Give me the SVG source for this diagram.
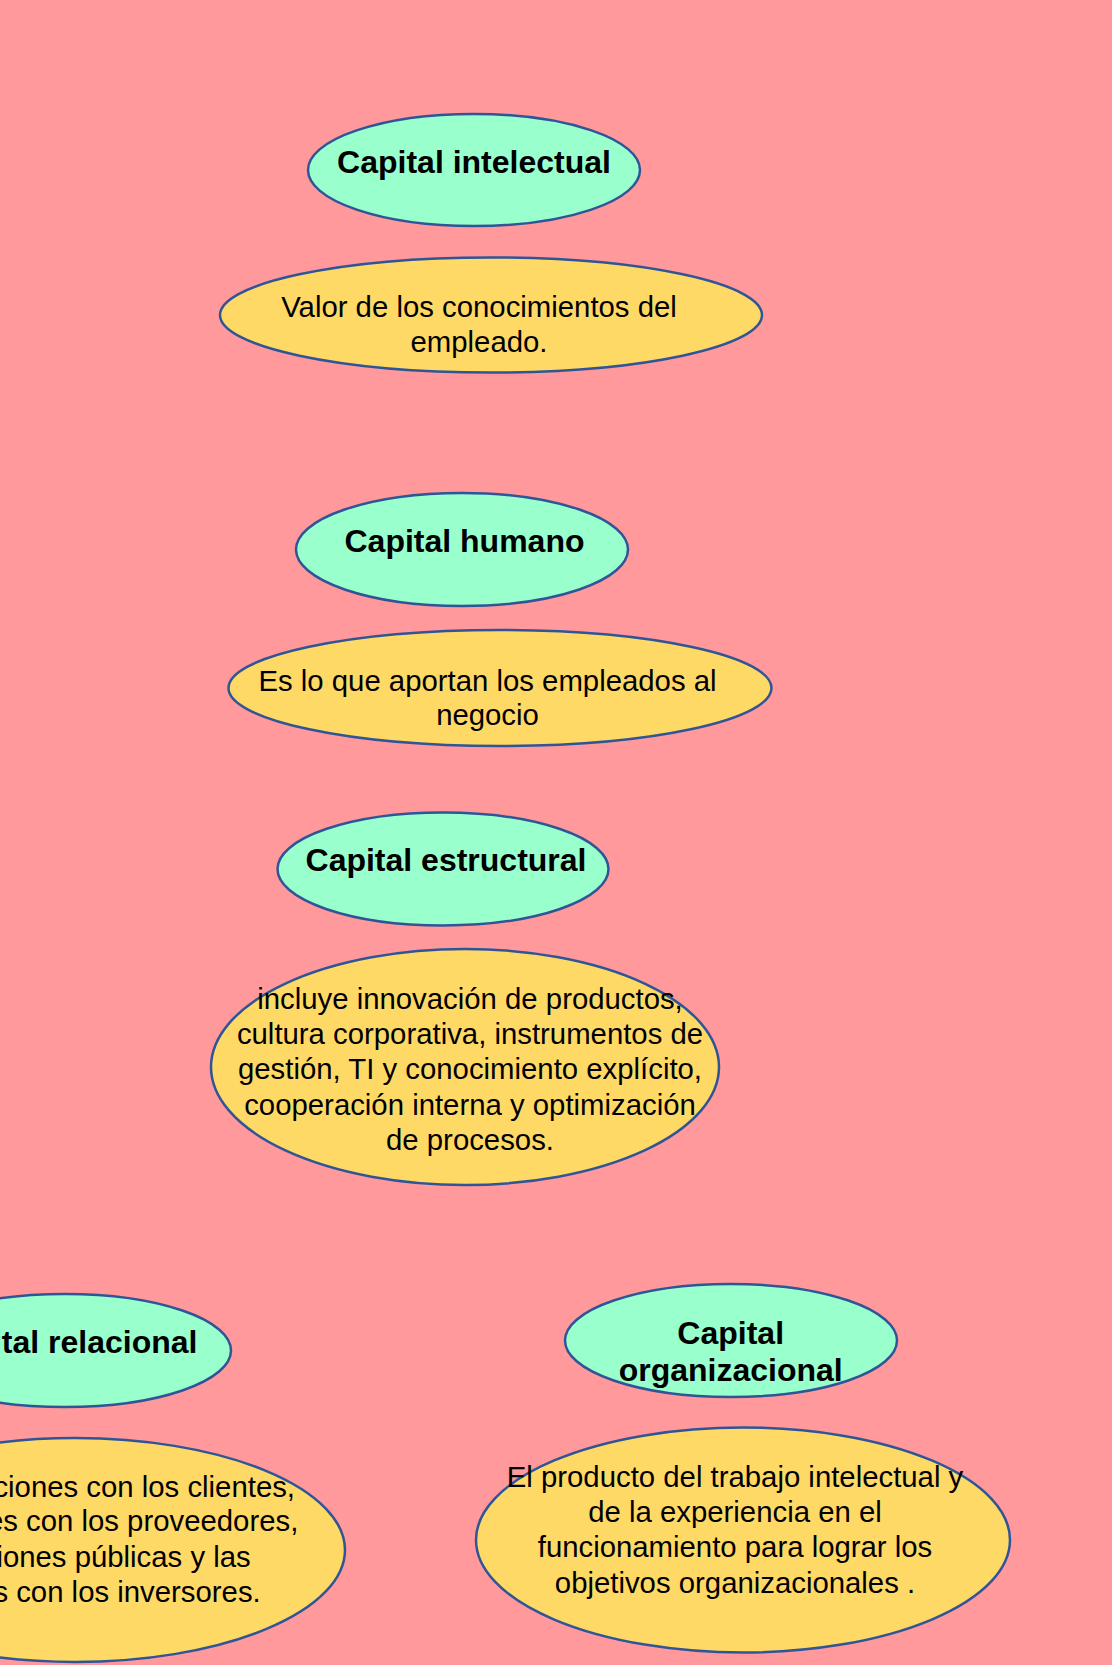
<svg xmlns="http://www.w3.org/2000/svg" width="1112" height="1665" viewBox="0 0 1112 1665">
<style>
.bg{fill:#FF999C}
.t{fill:#99FFCC;stroke:#2F5597;stroke-width:2.5}
.d{fill:#FFD966;stroke:#2F5597;stroke-width:2.5}
.h{font-family:"Liberation Sans",Arial,sans-serif;font-weight:bold;font-size:32px;fill:#000;text-anchor:middle}
.b{font-family:"Liberation Sans",Arial,sans-serif;font-size:29.33px;fill:#000;text-anchor:middle}
.e{text-anchor:end}
</style>
<rect class="bg" x="0" y="0" width="1112" height="1665"/>
<g id="connectors"></g>
<g id="n-intelectual">
<ellipse class="t" cx="474" cy="170" rx="166" ry="56"/>
<text class="h" x="474" y="173">Capital intelectual</text>
</g>
<g id="n-intelectual-def">
<ellipse class="d" cx="491" cy="315" rx="271" ry="57.5"/>
<text class="b"><tspan x="479" y="317">Valor de los conocimientos del</tspan><tspan x="479" y="351.5">empleado.</tspan></text>
</g>
<g id="n-humano">
<ellipse class="t" cx="462" cy="549.5" rx="166" ry="56.5"/>
<text class="h" x="464.5" y="552">Capital humano</text>
</g>
<g id="n-humano-def">
<ellipse class="d" cx="500" cy="688" rx="271.5" ry="58"/>
<text class="b"><tspan x="487.5" y="690.5">Es lo que aportan los empleados al</tspan><tspan x="487.5" y="725">negocio</tspan></text>
</g>
<g id="n-estructural">
<ellipse class="t" cx="443" cy="869" rx="165.5" ry="56.5"/>
<text class="h" x="446" y="871">Capital estructural</text>
</g>
<g id="n-estructural-def">
<ellipse class="d" cx="465" cy="1067" rx="254" ry="118"/>
<text class="b"><tspan x="470" y="1008.8">incluye innovación de productos,</tspan><tspan x="470" y="1043.8">cultura corporativa, instrumentos de</tspan><tspan x="470" y="1079.3">gestión, TI y conocimiento explícito,</tspan><tspan x="470" y="1114.8">cooperación interna y optimización</tspan><tspan x="470" y="1149.8">de procesos.</tspan></text>
</g>
<g id="n-relacional">
<ellipse class="t" cx="65" cy="1350.5" rx="166" ry="56.5"/>
<text class="h" x="65" y="1352.7">Capital relacional</text>
</g>
<g id="n-relacional-def">
<ellipse class="d" cx="75" cy="1550" rx="270" ry="112"/>
<text class="b e"><tspan x="295" y="1497.2">Relaciones con los clientes,</tspan><tspan x="298.3" y="1531.2">relaciones con los proveedores,</tspan><tspan x="250.7" y="1567">relaciones públicas y las</tspan><tspan x="260.7" y="1602.2">relaciones con los inversores.</tspan></text>
</g>
<g id="n-organizacional">
<ellipse class="t" cx="731" cy="1340.5" rx="166" ry="56.5"/>
<text class="h"><tspan x="730.7" y="1343.5">Capital</tspan><tspan x="730.7" y="1380.8">organizacional</tspan></text>
</g>
<g id="n-organizacional-def">
<ellipse class="d" cx="743" cy="1540" rx="267" ry="112.5"/>
<text class="b"><tspan x="735" y="1486.5">El producto del trabajo intelectual y</tspan><tspan x="735" y="1521.5">de la experiencia en el</tspan><tspan x="735" y="1557">funcionamiento para lograr los</tspan><tspan x="735" y="1592.5">objetivos organizacionales .</tspan></text>
</g>
</svg>
